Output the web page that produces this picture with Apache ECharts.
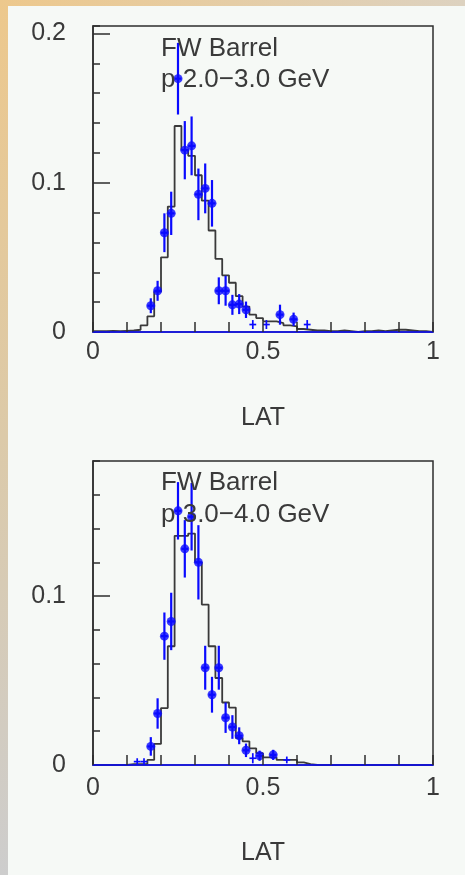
<!DOCTYPE html>
<html><head><meta charset="utf-8">
<script src="https://cdn.jsdelivr.net/npm/echarts@6/dist/echarts.min.js"></script>
<style>
html,body{margin:0;padding:0;width:465px;height:875px;overflow:hidden;}
body{background:linear-gradient(to bottom,#EDC88C 0%,#DCCAA9 50%,#CDCDCD 100%);position:relative;}
#topstrip{position:absolute;left:0;top:0;width:465px;height:6px;background:linear-gradient(to right,#EDC88C,#DDD2C0);}
#panel{position:absolute;left:8px;top:6px;right:0;bottom:0;background:#F6F9F6;}
#chart{position:absolute;left:0;top:0;width:465px;height:875px;}
</style></head><body>
<div id="topstrip"></div><div id="panel"></div><div id="chart"></div>
<script>
// ---------------- data ----------------
const binWidth = 0.02;             // histogram bin width in LAT
const panelTitles = ['FW Barrel', 'FW Barrel'];
const panelMomenta = ['p 2.0\u22123.0 GeV', 'p 3.0\u22124.0 GeV'];
const xAxisName = 'LAT';
const yMax1 = 0.205;
const yMax2 = 0.18;

// MC histogram (black), 50 bins from 0 to 1
const hist1 = [0.0005,0.0005,0.0008,0.0005,0.0008,0.001,0.0015,0.0045,0.0105,0.027,
               0.050,0.084,0.138,0.122,0.118,0.105,0.088,0.068,0.049,0.038,
               0.033,0.024,0.017,0.0116,0.0093,0.0071,0.0071,0.006,0.0045,0.0038,
               0.002,0.0015,0.001,0.001,0.0005,0.0005,0.001,0.0005,0,0.0005,
               0.0005,0.001,0.0005,0.001,0.0015,0.0015,0.001,0.0005,0.0005,0];
const hist2 = [0,0,0,0,0,0.0005,0.0005,0.0005,0.003,0.0125,
               0.0337,0.0703,0.1357,0.1357,0.137,0.12,0.095,0.0703,0.0515,0.037,
               0.034,0.016,0.014,0.0099,0.007,0.0045,0.0045,0.003,0.003,0.003,
               0.0015,0.0005,0,0,0,0,0,0,0,0,
               0,0,0,0,0,0,0,0,0,0];

// data points with dots (blue)
const dotX1 = [0.17,0.19,0.21,0.23,0.25,0.27,0.29,0.31,0.33,0.35,0.37,0.39,0.41,0.43,0.45,0.55,0.59];
const dotY1 = [0.0176,0.0276,0.0665,0.0795,0.1697,0.1218,0.1247,0.0922,0.0962,0.0862,0.0276,0.0276,0.0182,0.0187,0.0149,0.0116,0.0085];
const dotE1 = [0.005,0.0067,0.013,0.0145,0.024,0.0195,0.0197,0.0173,0.0167,0.0156,0.009,0.01,0.0067,0.0067,0.0055,0.0067,0.0045];
const crossX1 = [0.47,0.51,0.63];
const crossY1 = [0.005,0.005,0.005];
const crossE1 = [0.003,0.003,0.003];

const dotX2 = [0.17,0.19,0.21,0.23,0.25,0.27,0.29,0.31,0.33,0.35,0.37,0.39,0.41,0.43,0.45,0.49,0.53];
const dotY2 = [0.011,0.0305,0.0763,0.085,0.1505,0.128,0.147,0.12,0.0576,0.0416,0.0576,0.028,0.0225,0.0173,0.0087,0.0055,0.006];
const dotE2 = [0.0055,0.009,0.014,0.017,0.017,0.017,0.02,0.022,0.013,0.0106,0.013,0.009,0.007,0.005,0.004,0.003,0.003];
const crossX2 = [0.13,0.15,0.47,0.57];
const crossY2 = [0.002,0.002,0.004,0.003];
const crossE2 = [0.002,0.002,0.003,0.002];

// ---------------- drawing ----------------
const FONT = '"Liberation Sans", Arial, Helvetica, sans-serif';
const INK = '#2e2e2e';
const TXT = '#3a3a3a';
const BLUE = '#0a0aff';

const panels = [
  {grid:{left:93, top:26, width:340, height:306}, yMax:yMax1, hist:hist1,
   dx:dotX1, dy:dotY1, de:dotE1, cx:crossX1, cy:crossY1, ce:crossE1, lblMargin:8, nameGap:74,
   t1y:48.8, t2y:80.3},
  {grid:{left:93, top:461, width:340, height:304}, yMax:yMax2, hist:hist2,
   dx:dotX2, dy:dotY2, de:dotE2, cx:crossX2, cy:crossY2, ce:crossE2, lblMargin:11, nameGap:76,
   t1y:483.3, t2y:515}
];

function histPoints(h){
  const pts = h.map((v,i)=>[+(i*binWidth).toFixed(4), v]);
  pts.push([+(h.length*binWidth).toFixed(4), h[h.length-1]]);
  return pts;
}
function errRender(lw){
  return function(params, api){
    const x = api.value(0), y = api.value(1), e = api.value(2);
    const t = api.coord([x, y+e]), b = api.coord([x, Math.max(0, y-e)]);
    const l = api.coord([x-binWidth/2, y]), r = api.coord([x+binWidth/2, y]);
    return {type:'group', children:[
      {type:'line', shape:{x1:t[0],y1:t[1],x2:b[0],y2:b[1]}, style:{stroke:BLUE, lineWidth:lw}},
      {type:'line', shape:{x1:l[0],y1:l[1],x2:r[0],y2:r[1]}, style:{stroke:BLUE, lineWidth:lw}}
    ]};
  };
}

const option = {animation:false, grid:[], xAxis:[], yAxis:[], series:[], graphic:[]};
panels.forEach((p, i) => {
  option.grid.push(Object.assign({show:true, borderColor:INK, borderWidth:1.5, backgroundColor:'transparent', containLabel:false}, p.grid));
  option.xAxis.push({
    gridIndex:i, type:'value', min:0, max:1, interval:0.5, z:5,
    axisLine:{show:true, onZero:false, lineStyle:{color:BLUE, width:1.6}},
    axisTick:{show:true, inside:true, length:10, lineStyle:{color:INK, width:1.5}},
    minorTick:{show:true, splitNumber:5, length:10, lineStyle:{color:INK, width:1.5}},
    axisLabel:{margin:p.lblMargin, fontSize:25, color:TXT, fontFamily:FONT},
    splitLine:{show:false}, minorSplitLine:{show:false},
    name:xAxisName, nameLocation:'middle', nameGap:p.nameGap,
    nameTextStyle:{fontSize:25, color:TXT, fontFamily:FONT}
  });
  option.yAxis.push({
    gridIndex:i, type:'value', min:0, max:p.yMax, interval:0.1,
    axisLine:{show:true, lineStyle:{color:INK, width:1.5}},
    axisTick:{show:true, inside:true, length:17, lineStyle:{color:INK, width:1.5}},
    axisLabel:{margin:27, fontSize:25, color:TXT, fontFamily:FONT, showMaxLabel:false},
    splitLine:{show:false}
  });
  option.yAxis.push({
    gridIndex:i, type:'value', min:0, max:p.yMax, interval:0.02, position:'left',
    axisLine:{show:false},
    axisTick:{show:true, inside:true, length:7, lineStyle:{color:INK, width:1.5}},
    axisLabel:{show:false}, splitLine:{show:false}
  });
  const yIdx = i*2;
  option.series.push({
    type:'line', xAxisIndex:i, yAxisIndex:yIdx, step:'end', symbol:'none', z:2,
    lineStyle:{color:'#3a3a3a', width:1.8}, data:histPoints(p.hist), silent:true
  });
  option.series.push({
    type:'custom', xAxisIndex:i, yAxisIndex:yIdx, z:3, renderItem:errRender(2.2),
    data:p.dx.map((x,k)=>[x, p.dy[k], p.de[k]])
  });
  option.series.push({
    type:'custom', xAxisIndex:i, yAxisIndex:yIdx, z:3, renderItem:errRender(1.7),
    data:p.cx.map((x,k)=>[x, p.cy[k], p.ce[k]])
  });
  option.series.push({
    type:'scatter', xAxisIndex:i, yAxisIndex:yIdx, z:4, symbol:'circle', symbolSize:9,
    itemStyle:{color:BLUE}, data:p.dx.map((x,k)=>[x, p.dy[k]])
  });
  option.graphic.push({type:'text', x:161, y:p.t1y, z:10,
    style:{text:panelTitles[i], font:'26px '+FONT, fill:TXT, verticalAlign:'middle'}});
  option.graphic.push({type:'text', x:161, y:p.t2y, z:10,
    style:{text:panelMomenta[i], font:'26px '+FONT, fill:TXT, verticalAlign:'middle'}});
});

const chart = echarts.init(document.getElementById('chart'), null, {renderer:'canvas'});
chart.setOption(option);
</script></body></html>
